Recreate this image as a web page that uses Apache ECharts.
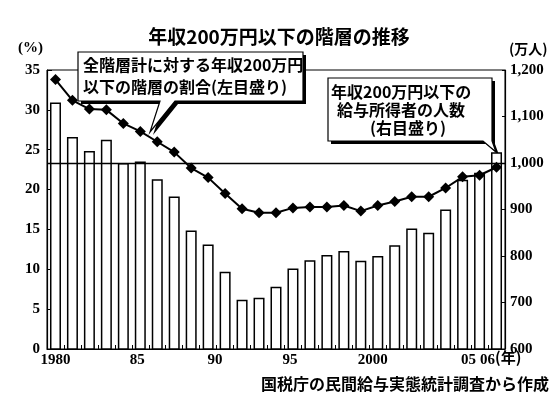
<!DOCTYPE html>
<html>
<head>
<meta charset="utf-8">
<script src="https://cdn.jsdelivr.net/npm/echarts@6/dist/echarts.min.js"></script>
<style>
  html, body { margin: 0; padding: 0; background: #fff; }
  #chart { width: 558px; height: 404px; }
</style>
</head>
<body>
<div id="chart"></div>
<script>
// 年 (カテゴリ)
var years = ['1980', '1981', '1982', '1983', '1984', '1985', '1986', '1987', '1988', '1989',
    '1990', '1991', '1992', '1993', '1994', '1995', '1996', '1997', '1998', '1999',
    '2000', '2001', '2002', '2003', '2004', '2005', '2006'];

// 軸ラベル (空文字は非表示)
var yearLabels = ['1980', '', '', '', '', '85', '', '', '', '',
    '90', '', '', '', '', '95', '', '', '', '',
    '2000', '', '', '', '', '05', '06'];

// 全階層計に対する年収200万円以下の階層の割合 (%) 左目盛り
var ratio = [33.8, 31.2, 30.1, 30.0, 28.3, 27.3, 26.0, 24.7, 22.7, 21.5,
    19.5, 17.6, 17.1, 17.1, 17.7, 17.8, 17.8, 18.0, 17.3, 18.0,
    18.5, 19.1, 19.1, 20.2, 21.6, 21.8, 22.8];

// 年収200万円以下の給与所得者の人数 (万人) 右目盛り
var people = [1130, 1056, 1026, 1050, 1000, 1003, 965, 928, 855, 825,
    766, 706, 710, 734, 773, 791, 802, 811, 790, 800,
    823, 859, 850, 900, 964, 979, 1023];

var leftTicks = [0, 5, 10, 15, 20, 25, 30, 35];
var rightTicks = [600, 700, 800, 900, 1000, 1100, 1200];

var numFont = 'Liberation Serif';
var jpFont = 'Noto Sans CJK JP';

// ラベルを少し左に寄せる (元図の位置合わせ)
var labelShift = { '85': 3, '90': 10, '95': 20, '2000': 22, '05': 11, '06': 9 };

var chart = echarts.init(document.getElementById('chart'));

function callout(points, texts) {
    var shadow = points.map(function (p) { return [p[0] + 3, p[1] + 3]; });
    var children = [
        { type: 'polygon', shape: { points: shadow }, style: { fill: '#000' } },
        { type: 'polygon', shape: { points: points }, style: { fill: '#fff', stroke: '#000', lineWidth: 1.2 } }
    ];
    texts.forEach(function (t) {
        children.push({
            type: 'text',
            style: {
                text: t.text, x: t.x, y: t.y,
                font: 'bold 16px "' + jpFont + '"',
                fill: '#000',
                align: t.align || 'left',
                verticalAlign: 'middle'
            }
        });
    });
    return { type: 'group', z: 100, children: children };
}

var option = {
    backgroundColor: '#fff',
    animation: false,
    title: {
        text: '年収200万円以下の階層の推移',
        left: 'center',
        top: 22,
        textStyle: { fontFamily: jpFont, fontWeight: 'bold', fontSize: 19, color: '#000' }
    },
    grid: {
        left: 47, right: 53, top: 70, bottom: 55,
        show: true, borderColor: '#000', borderWidth: 1, backgroundColor: 'transparent'
    },
    xAxis: {
        type: 'category',
        data: years,
        boundaryGap: true,
        name: '(年)',
        nameLocation: 'end',
        nameGap: -10,
        nameMoveOverlap: false,
        nameTextStyle: {
            fontFamily: jpFont, fontWeight: 'bold', fontSize: 15, color: '#000',
            verticalAlign: 'top', padding: [1, 0, 0, 0]
        },
        axisLine: { lineStyle: { color: '#000', width: 1.2 } },
        axisTick: { show: true, inside: true, length: 4, interval: 0, lineStyle: { color: '#000' } },
        axisLabel: {
            interval: 0,
            margin: 4,
            formatter: function (v, i) {
                var s = yearLabels[i];
                if (!s) return '';
                var d = labelShift[s] || 0;
                return '{a' + d + '|' + s + '}';
            },
            rich: (function () {
                var r = {};
                [0, 3, 9, 10, 11, 20, 22].forEach(function (d) {
                    r['a' + d] = {
                        fontFamily: numFont, fontWeight: 'bold', fontSize: 15, color: '#000',
                        padding: [0, 2 * d, 0, 0]
                    };
                });
                return r;
            })()
        },
        splitLine: { show: false }
    },
    yAxis: [{
        type: 'value',
        min: leftTicks[0], max: leftTicks[leftTicks.length - 1], interval: 5,
        name: '(%)',
        nameGap: 14,
        nameTextStyle: {
            fontFamily: numFont, fontWeight: 'bold', fontSize: 15, color: '#000',
            align: 'right', padding: [0, 4, 0, 0]
        },
        axisLine: { show: true, lineStyle: { color: '#000', width: 1.2 } },
        axisTick: { show: true, inside: true, length: 5, lineStyle: { color: '#000' } },
        axisLabel: { margin: 7, fontFamily: numFont, fontWeight: 'bold', fontSize: 15, color: '#000' },
        splitLine: { show: false }
    }, {
        type: 'value',
        min: rightTicks[0], max: rightTicks[rightTicks.length - 1], interval: 100,
        name: '(万人)',
        nameGap: 14,
        nameTextStyle: {
            fontFamily: jpFont, fontWeight: 'bold', fontSize: 14, color: '#000',
            align: 'left', padding: [0, 0, 0, 4]
        },
        axisLine: { show: true, lineStyle: { color: '#000', width: 1.2 } },
        axisTick: { show: true, inside: true, length: 3, lineStyle: { color: '#000' } },
        axisLabel: {
            margin: 5, fontFamily: numFont, fontWeight: 'bold', fontSize: 15, color: '#000',
            formatter: function (v) { return v.toLocaleString('en-US'); }
        },
        splitLine: { show: false }
    }],
    series: [{
        name: '人数',
        type: 'bar',
        yAxisIndex: 1,
        data: people,
        barWidth: 11,
        itemStyle: { color: '#fff', borderColor: '#000', borderWidth: 1.5 },
        markLine: {
            silent: true,
            symbol: 'none',
            label: { show: false },
            lineStyle: { color: '#000', type: 'solid', width: 1.3 },
            data: [{ yAxis: 1000 }]
        }
    }, {
        name: '割合',
        type: 'line',
        yAxisIndex: 0,
        data: ratio,
        symbol: 'diamond',
        symbolSize: 11,
        itemStyle: { color: '#000' },
        lineStyle: { color: '#000', width: 2 },
        z: 10
    }],
    graphic: [
        callout(
            [[78, 52], [303, 52], [303, 101], [175, 101], [150, 132], [160, 101], [78, 101]],
            [
                { text: '全階層計に対する年収200万円', x: 83, y: 65 },
                { text: '以下の階層の割合(左目盛り)', x: 83, y: 87 }
            ]
        ),
        callout(
            [[328, 78], [492, 78], [492, 141], [496, 152], [483, 141], [328, 141]],
            [
                { text: '年収200万円以下の', x: 331, y: 92 },
                { text: '給与所得者の人数', x: 337, y: 110 },
                { text: '(右目盛り)', x: 408, y: 128, align: 'center' }
            ]
        ),
        {
            type: 'text',
            right: 9,
            top: 376,
            style: {
                text: '国税庁の民間給与実態統計調査から作成',
                font: 'bold 16px "' + jpFont + '"',
                fill: '#000'
            }
        }
    ]
};

chart.setOption(option);
</script>
</body>
</html>
